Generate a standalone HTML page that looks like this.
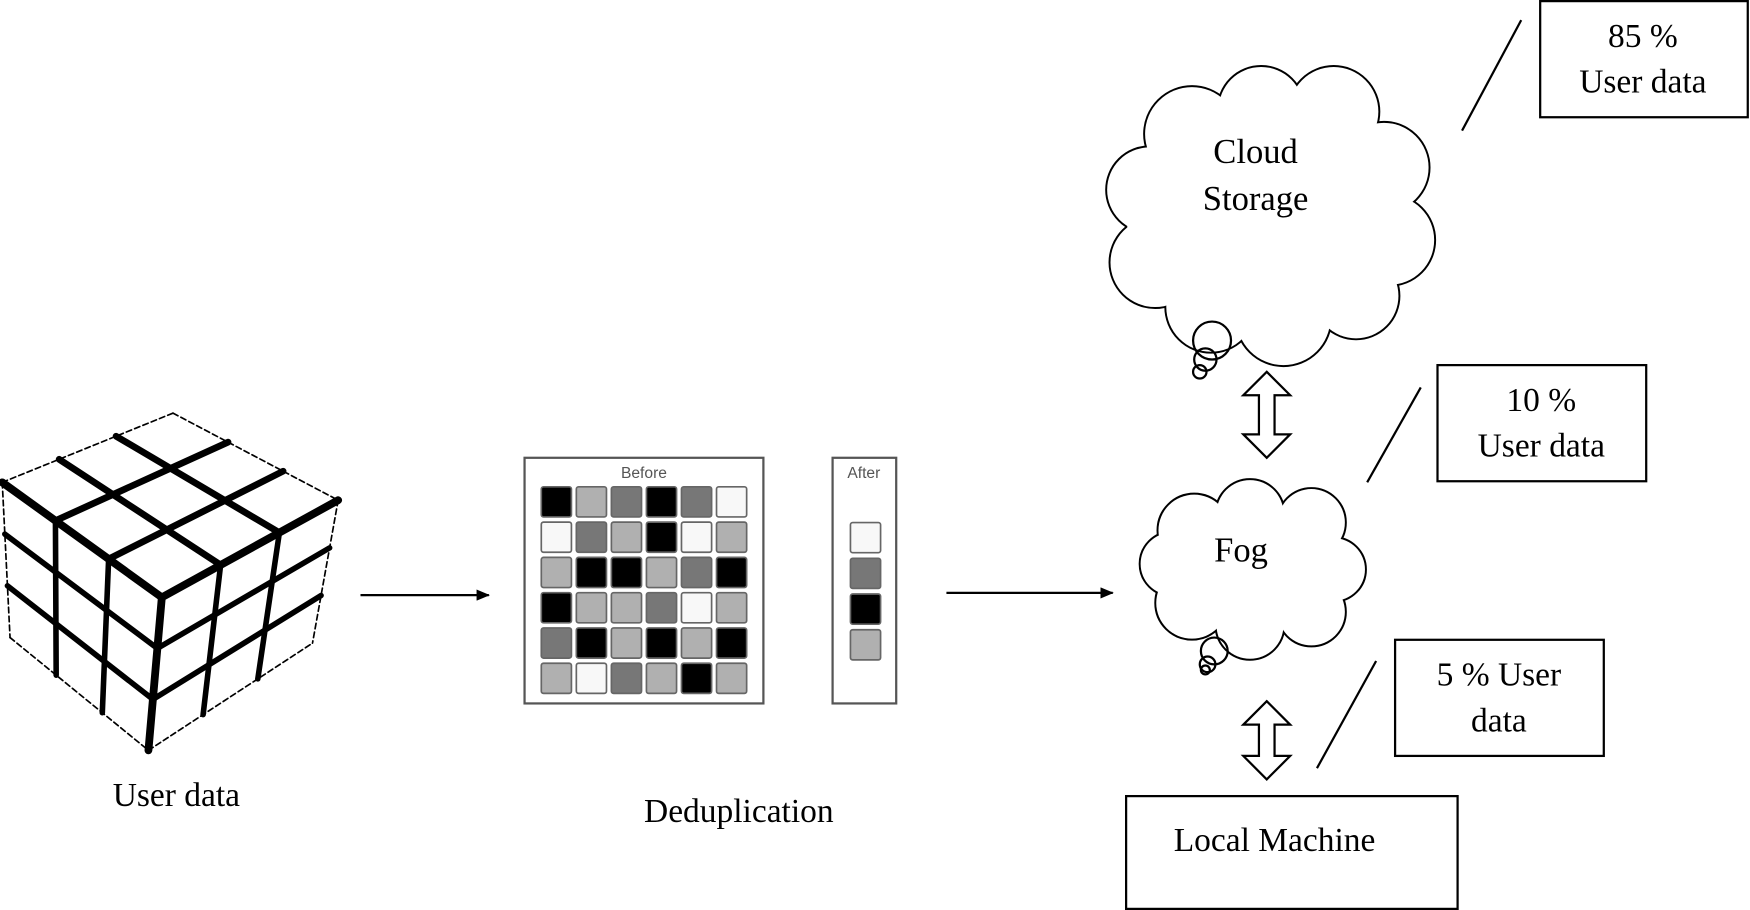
<!DOCTYPE html>
<html><head><meta charset="utf-8"><style>html,body{margin:0;padding:0;background:#fff;overflow:hidden}svg{display:block}</style></head>
<body>
<svg width="1750" height="910" viewBox="0 0 1568 815" preserveAspectRatio="none" xmlns="http://www.w3.org/2000/svg" font-family="'Liberation Serif',serif">
<defs>
<marker id="ah" markerWidth="12" markerHeight="10" refX="11" refY="5" orient="auto" markerUnits="userSpaceOnUse"><path d="M0,0 L12,5 L0,10 Z" fill="#000"/></marker>
</defs>
<g id="cube" stroke="#000" fill="none" stroke-linecap="round"></g>
<rect x="470" y="410" width="214" height="220" fill="#fff" stroke="#555" stroke-width="2"/>
<text x="577" y="428" font-family="'Liberation Sans',sans-serif" font-size="14" fill="#555" text-anchor="middle">Before</text>
<g id="grid"></g>
<rect x="746" y="410" width="57" height="220" fill="#fff" stroke="#555" stroke-width="2"/>
<text x="774" y="428" font-family="'Liberation Sans',sans-serif" font-size="14" fill="#555" text-anchor="middle">After</text>
<g stroke="#666" stroke-width="1.5">
<rect x="762" y="468" width="27" height="27" rx="2" fill="#f8f8f8"/>
<rect x="762" y="500" width="27" height="27" rx="2" fill="#777"/>
<rect x="762" y="532" width="27" height="27" rx="2" fill="#000"/>
<rect x="762" y="564" width="27" height="27" rx="2" fill="#b0b0b0"/>
</g>
<line x1="323" y1="533" x2="438" y2="533" stroke="#000" stroke-width="2" marker-end="url(#ah)"/>
<line x1="848" y1="531" x2="997" y2="531" stroke="#000" stroke-width="2" marker-end="url(#ah)"/>
<text x="158" y="722" font-size="30" text-anchor="middle">User data</text>
<text x="662" y="736" font-size="30" text-anchor="middle">Deduplication</text>
<g id="clouds"></g>
<text x="1125" y="146" font-size="31" text-anchor="middle">Cloud</text>
<text x="1125" y="188" font-size="31" text-anchor="middle">Storage</text>
<text x="1112" y="503" font-size="31" text-anchor="middle">Fog</text>
<path d="M1135,333 L1156,354 L1142,354 L1142,389 L1156,389 L1135,410 L1114,389 L1128,389 L1128,354 L1114,354 Z" fill="#fff" stroke="#000" stroke-width="2"/>
<path d="M1135,628 L1156,649 L1142,649 L1142,677 L1156,677 L1135,698 L1114,677 L1128,677 L1128,649 L1114,649 Z" fill="#fff" stroke="#000" stroke-width="2"/>
<g fill="none" stroke="#000" stroke-width="2">
<rect x="1380" y="1" width="186" height="104"/>
<rect x="1288" y="327" width="187" height="104"/>
<rect x="1250" y="573" width="187" height="104"/>
<rect x="1009" y="713" width="297" height="101"/>
<line x1="1363" y1="18" x2="1310" y2="117"/>
<line x1="1273" y1="347" x2="1225" y2="432"/>
<line x1="1233" y1="592" x2="1180" y2="688"/>
</g>
<g font-size="30" text-anchor="middle">
<text x="1472" y="42">85 %</text><text x="1472" y="83">User data</text>
<text x="1381" y="368">10 %</text><text x="1381" y="409">User data</text>
<text x="1343" y="614">5 % User</text><text x="1343" y="655">data</text>
<text x="1142" y="762">Local Machine</text>
</g>
<script>
var NS="http://www.w3.org/2000/svg";
function el(p,t,a){var e=document.createElementNS(NS,t);for(var k in a)e.setAttribute(k,a[k]);p.appendChild(e);return e;}
var g=document.getElementById('grid');
var C={B:'#000',L:'#b0b0b0',D:'#777',W:'#f8f8f8'};
var rows=["BLDBDW","WDLBWL","LBBLDB","BLLDWL","DBLBLB","LWDLBL"];
rows.forEach(function(r,i){for(var j=0;j<6;j++){el(g,'rect',{x:485+j*31.4,y:436+i*31.6,width:27,height:27,rx:2,fill:C[r[j]],stroke:'#666','stroke-width':1.5});}});
var cg=document.getElementById('cube');
function lerp(a,b,t){return [a[0]+(b[0]-a[0])*t,a[1]+(b[1]-a[1])*t];}
function bil(p00,p10,p11,p01,u,v){return lerp(lerp(p00,p10,u),lerp(p01,p11,u),v);}
function face(p00,p10,p11,p01,thick){
 for(var i=0;i<=3;i++){
  var t=i/3,outer=(i==0||i==3);
  var a=bil(p00,p10,p11,p01,t,0),b=bil(p00,p10,p11,p01,t,1);
  el(cg,'line',{x1:a[0],y1:a[1],x2:b[0],y2:b[1],'stroke-width':outer?1.5:thick,'stroke-dasharray':outer?'5,3':''});
  a=bil(p00,p10,p11,p01,0,t);b=bil(p00,p10,p11,p01,1,t);
  el(cg,'line',{x1:a[0],y1:a[1],x2:b[0],y2:b[1],'stroke-width':outer?1.5:thick,'stroke-dasharray':outer?'5,3':''});
 }
}
var T=[155,370],L=[2,432],F=[145,535],R=[303,448],B=[133,672],LB=[9,571],RB=[280,576];
face(L,T,R,F,6);face(L,F,B,LB,5);face(F,R,RB,B,5);
[[L,F],[F,R],[F,B]].forEach(function(s){el(cg,'line',{x1:s[0][0],y1:s[0][1],x2:s[1][0],y2:s[1][1],'stroke-width':7});});
var cl=document.getElementById('clouds');
function cloud(circs){
 circs.forEach(function(c){el(cl,'circle',{cx:c[0],cy:c[1],r:c[2],fill:'none',stroke:'#000','stroke-width':3.5});});
 circs.forEach(function(c){el(cl,'circle',{cx:c[0],cy:c[1],r:c[2],fill:'#fff'});});
}
cloud([[1135,190,95],[1068,120,42],[1130,98,38],[1195,100,40],[1240,150,40],[1245,215,40],[1215,265,38],[1150,285,42],[1085,275,40],[1035,235,40],[1030,170,38],[1160,180,90],[1100,200,90]]);
cloud([[1120,505,55],[1070,475,32],[1120,460,30],[1175,468,30],[1195,510,28],[1175,548,30],[1120,560,30],[1068,540,32],[1050,505,28]]);
function ring(x,y,r){el(cl,'circle',{cx:x,cy:y,r:r,fill:'none',stroke:'#000','stroke-width':2});}
ring(1086,305,17);ring(1080,322,10);ring(1075,333,6);
ring(1088,583,12);ring(1082,595,7);ring(1080,600,4);
</script>
</svg>
</body></html>
